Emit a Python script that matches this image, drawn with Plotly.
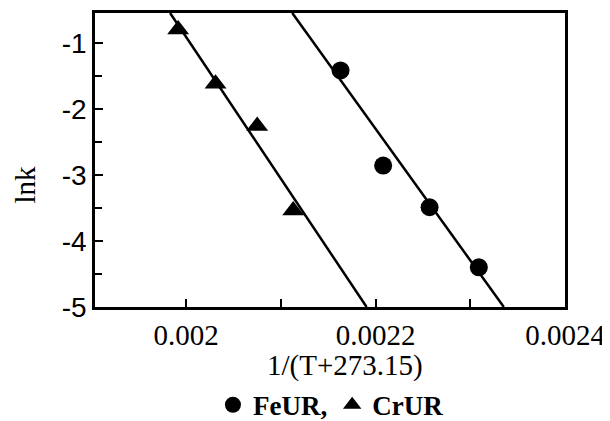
import plotly.graph_objects as go

# data
fe_x = [0.002163, 0.002208, 0.002257, 0.002309]
fe_y = [-1.42, -2.86, -3.49, -4.40]
cr_x = [0.0019915, 0.002031, 0.002075, 0.002113]
cr_y = [-0.80, -1.62, -2.26, -3.54]
# fitted lines (endpoints)
fe_fit_x = [0.002112, 0.0023354]
fe_fit_y = [-0.55, -5.0]
cr_fit_x = [0.001983, 0.0021905]
cr_fit_y = [-0.55, -5.0]
x_tickvals = [0.002, 0.0022, 0.0024]
x_ticktext = ["0.002", "0.0022", "0.0024"]
y_tickvals = [-1, -2, -3, -4, -5]
y_ticktext = ["-1", "-2", "-3", "-4", "-5"]

fig = go.Figure()
fig.add_trace(go.Scatter(x=fe_fit_x, y=fe_fit_y, mode="lines",
                         line=dict(color="black", width=2.5), showlegend=False))
fig.add_trace(go.Scatter(x=cr_fit_x, y=cr_fit_y, mode="lines",
                         line=dict(color="black", width=2.5), showlegend=False))
fig.add_trace(go.Scatter(x=fe_x, y=fe_y, mode="markers", name="FeUR,",
                         marker=dict(symbol="circle", size=18, color="black")))
fig.add_trace(go.Scatter(x=cr_x, y=cr_y, mode="markers", name="CrUR",
                         marker=dict(symbol="triangle-up", size=19, color="black")))

fig.update_layout(
    width=602, height=413,
    margin=dict(l=87, r=45, t=5, b=114, autoexpand=False),
    paper_bgcolor="white", plot_bgcolor="white",
    font=dict(family="Liberation Serif", color="black"),
    legend=dict(orientation="h", x=0.502, xanchor="center", y=-0.334, yanchor="middle",
                font=dict(family="Liberation Serif", size=27, color="black", weight="bold"),
                itemwidth=30, tracegroupgap=0, bgcolor="rgba(0,0,0,0)"),
    annotations=[
        dict(text="1/(T+273.15)", xref="paper", yref="paper", x=0.532, y=-0.2,
             xanchor="center", yanchor="middle", showarrow=False,
             font=dict(family="Liberation Serif", size=29, color="black")),
        dict(text="lnk", xref="paper", yref="paper", x=-0.148, y=0.418,
             xanchor="center", yanchor="middle", showarrow=False, textangle=-90,
             font=dict(family="Liberation Serif", size=29, color="black")),
    ],
)
fig.update_xaxes(range=[0.0019037, 0.0024], showgrid=False, zeroline=False, automargin=False,
                 showline=True, linecolor="black", linewidth=2.5, mirror=True,
                 ticks="inside", ticklen=8, tickwidth=2, tickcolor="black",
                 tickvals=x_tickvals, ticktext=x_ticktext,
                 tickfont=dict(family="Liberation Serif", size=29),
                 minor=dict(tickvals=[0.0021, 0.0023], ticks="inside", ticklen=8,
                            tickwidth=2, tickcolor="black"))
fig.update_yaxes(range=[-5, -0.55], showgrid=False, zeroline=False, automargin=False,
                 showline=True, linecolor="black", linewidth=2.5, mirror=True,
                 ticks="inside", ticklen=8, tickwidth=2, tickcolor="black",
                 tickvals=y_tickvals, ticktext=y_ticktext,
                 tickfont=dict(family="Liberation Sans", size=28),
                 minor=dict(tickvals=[-1.5, -2.5, -3.5, -4.5], ticks="inside", ticklen=7,
                            tickwidth=2, tickcolor="black"))

fig.write_html("out.html")
